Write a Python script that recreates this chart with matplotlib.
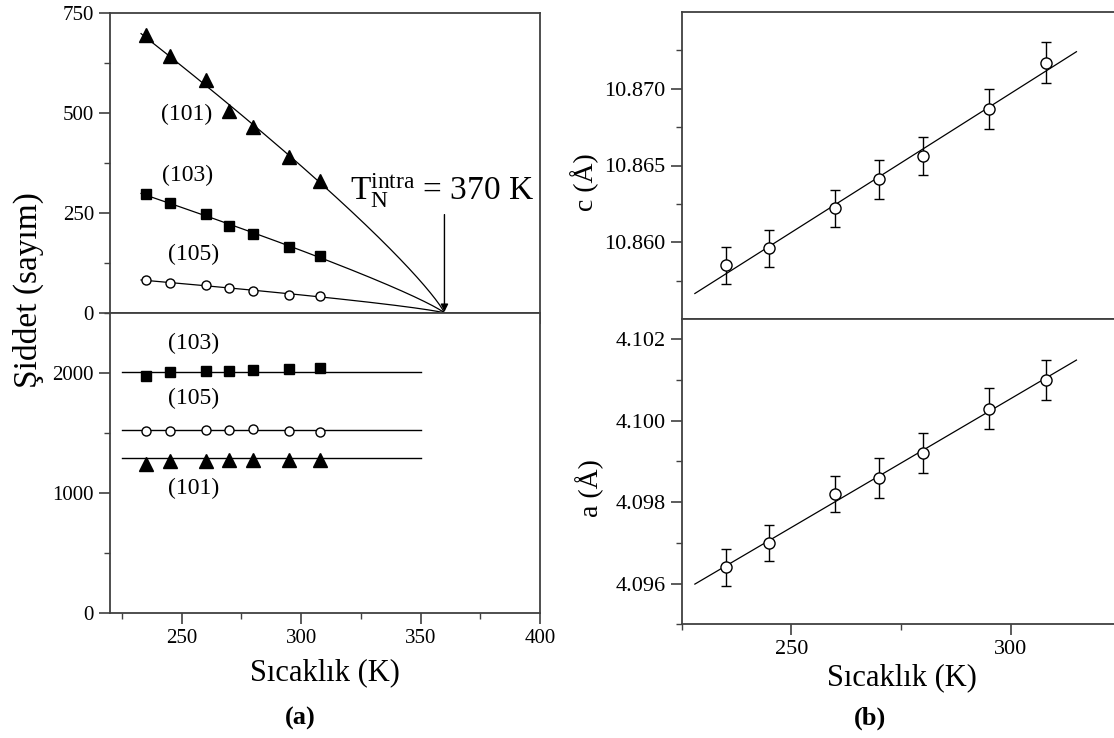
import numpy as np
import matplotlib
matplotlib.use('Agg')
import matplotlib.pyplot as plt
from matplotlib.ticker import MultipleLocator, FixedLocator

plt.rcParams['font.family'] = ['Liberation Serif', 'DejaVu Serif']
plt.rcParams['mathtext.fontset'] = 'custom'
plt.rcParams['mathtext.rm'] = 'Liberation Serif'
plt.rcParams['mathtext.it'] = 'Liberation Serif:italic'
plt.rcParams['axes.edgecolor'] = '#404040'
plt.rcParams['axes.linewidth'] = 1.3

# ---------------- data ----------------
temps = [235, 245, 260, 270, 280, 295, 308]

# magnetic intensities (upper left)
mag_101 = [695, 642, 583, 505, 464, 391, 331]
mag_103 = [297, 275, 248, 218, 197, 164, 142]
mag_105 = [83, 76, 69, 62, 56, 46, 42]
tn_axis = 360          # where the fitted curves meet zero on the axis
fit_start = 233

# nuclear intensities (lower left)
nuc_101 = [1239, 1264, 1270, 1272, 1278, 1272, 1272]
nuc_103 = [1972, 2005, 2019, 2019, 2025, 2033, 2041]
nuc_105 = [1513, 1513, 1527, 1521, 1530, 1513, 1505]
nuc_level_101 = 1295
nuc_level_103 = 2005
nuc_level_105 = 1522
nuc_line_range = [225, 350]

# lattice parameters (right)
c_vals = [10.8585, 10.8596, 10.8622, 10.8641, 10.8656, 10.8687, 10.8717]
c_err = [0.0012, 0.0012, 0.0012, 0.00125, 0.00125, 0.0013, 0.00135]
a_vals = [4.0964, 4.0970, 4.0982, 4.0986, 4.0992, 4.1003, 4.1010]
a_err = [0.00045, 0.00044, 0.00044, 0.00049, 0.00049, 0.0005, 0.00049]
lin_range = [228, 315]
c_ticks = [10.860, 10.865, 10.870]
c_minor = [10.8575, 10.8625, 10.8675, 10.8725]

T = np.array(temps, dtype=float)

fig = plt.figure(figsize=(11.14, 7.38), dpi=100)
W, H = 1114.0, 738.0


def box(x0, y0, x1, y1):
    return [x0 / W, 1 - y1 / H, (x1 - x0) / W, (y1 - y0) / H]


ax_lt = fig.add_axes(box(110, 13, 540, 313))
ax_lb = fig.add_axes(box(110, 313, 540, 613))
ax_rt = fig.add_axes(box(681.7, 12, 1120.3, 319))
ax_rb = fig.add_axes(box(681.7, 319, 1120.3, 624.3))

for ax in (ax_lt, ax_lb, ax_rt, ax_rb):
    ax.tick_params(which='both', direction='out', top=False, right=False,
                   color='#404040')
    ax.tick_params(which='major', length=8, width=1.2)
    ax.tick_params(which='minor', length=4, width=1.0)

# ---------- upper left: magnetic peaks ----------
def power_fit(vals):
    x = np.log(1 - T / tn_axis)
    b, lnA = np.polyfit(x, np.log(np.array(vals, float)), 1)
    tt = np.linspace(fit_start, tn_axis, 300)
    return tt, np.exp(lnA) * np.clip(1 - tt / tn_axis, 0, None) ** b

for vals, mk, fc, ms in ((mag_101, '^', 'k', 9.5), (mag_103, 's', 'k', 6.5),
                         (mag_105, 'o', 'white', 6.5)):
    tt, yy = power_fit(vals)
    ax_lt.plot(tt, yy, color='k', lw=0.9, zorder=2)
    ax_lt.plot(T, vals, linestyle='none', marker=mk, ms=ms, mfc=fc,
               mec='k', mew=1.0, zorder=3)

ax_lt.set_xlim(220, 400)
ax_lt.set_ylim(0, 750)
ax_lt.xaxis.set_major_locator(MultipleLocator(50))
ax_lt.xaxis.set_minor_locator(MultipleLocator(25))
ax_lt.yaxis.set_major_locator(MultipleLocator(250))
ax_lt.yaxis.set_minor_locator(MultipleLocator(125))
ax_lt.tick_params(axis='x', labelbottom=False)
ax_lt.tick_params(axis='y', labelsize=15)

ax_lt.text(252, 496, '(101)', fontsize=17, ha='center', va='center')
ax_lt.text(252.5, 343, '(103)', fontsize=17, ha='center', va='center')
ax_lt.text(255, 146, '(105)', fontsize=17, ha='center', va='center')
ax_lt.text(359, 307, r'$\mathregular{T_N^{intra}}$ = 370 K', fontsize=24,
           ha='center', va='center')
ax_lt.annotate('', xy=(tn_axis, 3), xytext=(tn_axis, 246),
               arrowprops=dict(arrowstyle='-|>', color='k', lw=1.0,
                               mutation_scale=11, shrinkA=0, shrinkB=0))

# ---------- lower left: nuclear peaks ----------
for vals, lvl, mk, fc, ms in ((nuc_103, nuc_level_103, 's', 'k', 6.5),
                              (nuc_105, nuc_level_105, 'o', 'white', 6.5),
                              (nuc_101, nuc_level_101, '^', 'k', 9.5)):
    ax_lb.plot(nuc_line_range, [lvl, lvl], color='k', lw=1.0, zorder=2)
    ax_lb.plot(T, vals, linestyle='none', marker=mk, ms=ms, mfc=fc,
               mec='k', mew=1.0, zorder=3)

ax_lb.set_xlim(220, 400)
ax_lb.set_ylim(0, 2500)
ax_lb.xaxis.set_major_locator(MultipleLocator(50))
ax_lb.xaxis.set_minor_locator(MultipleLocator(25))
ax_lb.yaxis.set_major_locator(MultipleLocator(1000))
ax_lb.yaxis.set_minor_locator(MultipleLocator(500))
ax_lb.tick_params(axis='both', labelsize=15)
ax_lb.text(255, 2246, '(103)', fontsize=17, ha='center', va='center')
ax_lb.text(255, 1784, '(105)', fontsize=17, ha='center', va='center')
ax_lb.text(255, 1037, '(101)', fontsize=17, ha='center', va='center')

fig.text(28 / W, 1 - 290 / H, 'Şiddet (sayım)', rotation=90, fontsize=24,
         ha='center', va='center')
fig.text(325 / W, 1 - 673 / H, 'Sıcaklık (K)', fontsize=22,
         ha='center', va='center')
fig.text(300 / W, 1 - 718 / H, '(a)', fontsize=19, fontweight='bold',
         ha='center', va='center')

# ---------- right: lattice parameters ----------
for ax, vals, err in ((ax_rt, c_vals, c_err), (ax_rb, a_vals, a_err)):
    p = np.polyfit(T, vals, 1)
    xx = np.array(lin_range, float)
    ax.plot(xx, np.polyval(p, xx), color='k', lw=0.9, zorder=2)
    ax.errorbar(T, vals, yerr=err, fmt='o', ms=8, mfc='white', mec='k',
                mew=1.0, ecolor='k', elinewidth=1.0, capsize=3.5,
                capthick=1.0, zorder=3)
    ax.set_xlim(225, 325)
    ax.xaxis.set_major_locator(MultipleLocator(50))
    ax.xaxis.set_minor_locator(MultipleLocator(25))
    ax.tick_params(axis='y', labelsize=16)
    ax.tick_params(axis='x', labelsize=16)

ax_rt.set_ylim(10.855, 10.875)
ax_rt.yaxis.set_major_locator(FixedLocator(c_ticks))
ax_rt.yaxis.set_minor_locator(FixedLocator(c_minor))
ax_rt.yaxis.set_major_formatter(plt.FormatStrFormatter('%.3f'))
ax_rt.tick_params(axis='x', labelbottom=False)

ax_rb.set_ylim(4.095, 4.1025)
ax_rb.yaxis.set_major_locator(MultipleLocator(0.002))
ax_rb.yaxis.set_minor_locator(MultipleLocator(0.001))
ax_rb.yaxis.set_major_formatter(plt.FormatStrFormatter('%.3f'))

fig.text(585 / W, 1 - 182 / H, 'c (Å)', rotation=90, fontsize=20,
         ha='center', va='center')
fig.text(590 / W, 1 - 488 / H, 'a (Å)', rotation=90, fontsize=20,
         ha='center', va='center')
fig.text(902 / W, 1 - 678 / H, 'Sıcaklık (K)', fontsize=22,
         ha='center', va='center')
fig.text(870 / W, 1 - 718 / H, '(b)', fontsize=19, fontweight='bold',
         ha='center', va='center')

fig.savefig('out.png', dpi=100)
